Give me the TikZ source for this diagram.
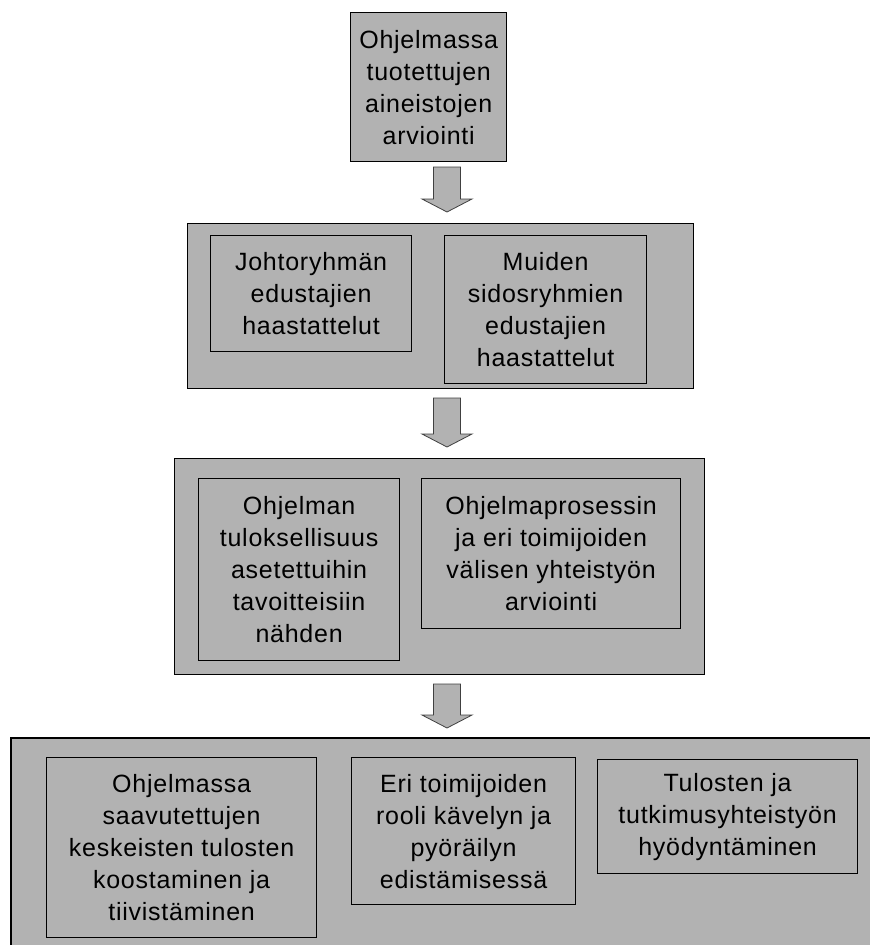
\documentclass[tikz,border=0pt]{standalone}
\usepackage{fontspec}
\setmainfont{Liberation Sans}[LetterSpace=3]
\usetikzlibrary{positioning}
\definecolor{boxgray}{gray}{0.70}

\begin{document}
\begin{tikzpicture}[
  x=1pt, y=-1pt,
  font=\fontsize{25}{32}\selectfont,
  outer/.style={draw, line width=1.4pt, fill=boxgray, anchor=north west, inner sep=0pt},
  inbox/.style={draw, line width=1.2pt, fill=boxgray, anchor=north west, align=center, inner sep=0pt},
  flow/.style={draw=black!75, line width=0.8pt, fill=boxgray}
]
  \useasboundingbox (0,0) rectangle (870,945);

  % top box
  \node[inbox, line width=1.4pt, minimum width=156, minimum height=149] (aineisto) at (350,12) {Ohjelmassa\\tuotettujen\\aineistojen\\arviointi};

  % interviews
  \node[outer, minimum width=506, minimum height=165] (haast) at (187,223) {};
  \node[inbox, minimum width=201, minimum height=116] (johto) at (210,235) {Johtoryhmän\\edustajien\\haastattelut};
  \node[inbox, minimum width=202, minimum height=148] (muut) at (444,235) {Muiden\\sidosryhmien\\edustajien\\haastattelut};

  % evaluation
  \node[outer, minimum width=530, minimum height=216] (arvio) at (174,458) {};
  \node[inbox, minimum width=201, minimum height=182] (tulos) at (198,478) {Ohjelman\\tuloksellisuus\\asetettuihin\\tavoitteisiin\\nähden};
  \node[inbox, minimum width=259, minimum height=150] (prosessi) at (421,478) {Ohjelmaprosessin\\ja eri toimijoiden\\välisen yhteistyön\\arviointi};

  % synthesis (cut at the right and bottom edge)
  \node[fill=boxgray, anchor=north west, inner sep=0pt, minimum width=870, minimum height=212] (synt) at (11,738) {};
  \draw[line width=1.4pt] (synt.south west) -- (synt.north west) -- (synt.north east);
  \node[inbox, minimum width=270, minimum height=180] (koost) at (46,757) {Ohjelmassa\\saavutettujen\\keskeisten tulosten\\koostaminen ja\\tiivistäminen};
  \node[inbox, minimum width=224, minimum height=147] (rooli) at (351,757) {Eri toimijoiden\\rooli kävelyn ja\\pyöräilyn\\edistämisessä};
  \node[inbox, minimum width=260, minimum height=114] (hyoty) at (597,759) {Tulosten ja\\tutkimusyhteistyön\\hyödyntäminen};

  % block arrows
  \foreach \ytop/\len [count=\i] in {167/45, 398/49, 684/44} {
    \coordinate (a\i) at (447,\ytop);
    \draw[flow] (a\i) ++(-13.5,0) -- ++(27,0) -- ++(0,{\len-13}) -- ++(11.5,0)
      -- ++(-25,13) -- ++(-25,-13) -- ++(11.5,0) -- cycle;
  }
\end{tikzpicture}
\end{document}
